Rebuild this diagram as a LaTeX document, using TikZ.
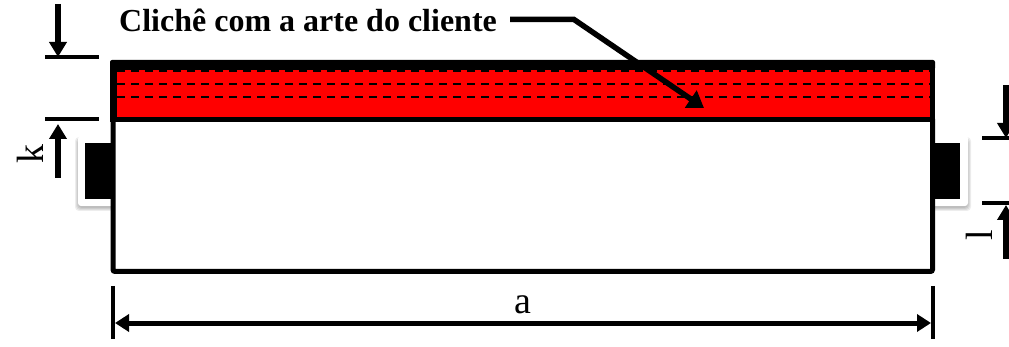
\documentclass[tikz,border=0pt]{standalone}
\usepackage{fontspec}
\setmainfont{Liberation Serif}
\usetikzlibrary{arrows.meta}
\tikzset{
  px/.style={x=1pt,y=-1pt},
  dimline/.style={draw=black,line width=4.5pt},
  arr/.style={draw=black,line width=5.5pt,-{Triangle[length=15pt,width=17pt]}},
  dimarr/.style={draw=black,line width=5pt,{Triangle[length=14pt,width=17pt]}-{Triangle[length=14pt,width=17pt]}},
  leader/.style={draw=black,line width=5.5pt,line join=miter,-{Triangle[length=16pt,width=20pt]}},
  cutline/.style={draw=black,line width=1.7pt,dash pattern=on 8pt off 6pt},
  shadowbox/.style={fill=black,fill opacity=0.07,rounded corners=4pt},
  captext/.style={font=\bfseries\fontsize{32}{36}\selectfont,inner sep=0pt,anchor=base west},
  lab/.style={font=\fontsize{38}{42}\selectfont,inner sep=0pt},
}
\begin{document}
\begin{tikzpicture}[px]
\useasboundingbox (0,0) rectangle (1009,347);
% shoulders: soft shadow, white plate, black block
\foreach \d in {0,1,2,3}{
  \fill[shadowbox] (75+\d,137+\d) rectangle (114,211-\d);
  \fill[shadowbox] (930,137+\d) rectangle (971-\d,211-\d);
}
\fill[white,rounded corners=3pt] (78,136) rectangle (115,206);
\fill[white,rounded corners=3pt] (930,135) rectangle (968,206);
\fill[black] (85,143) rectangle (112,199);
\fill[black] (933,143) rectangle (960,199);
% cylinder
\fill[white] (112,62) rectangle (933,271);
\fill[red] (116,68) rectangle (931,118);
\draw[cutline] (117,71) -- (930,71);
\draw[cutline] (117,84) -- (930,84);
\draw[cutline] (117,97) -- (930,97);
\fill[black,rounded corners=2pt] (110,60) rectangle (935,70);
\fill[black] (110,117) rectangle (935,122);
\fill[black] (110,65) rectangle (117,117);
\fill[black] (930,65) rectangle (935,117);
\draw[black,line width=5pt,rounded corners=2pt] (113,119) -- (113,271.5) -- (932.5,271.5) -- (932.5,119);
% k dimension
\coordinate (ka) at (58,4);
\coordinate (kb) at (58,57);
\coordinate (kc) at (58,178);
\coordinate (kd) at (58,124);
\draw[dimline] (45,57) -- (99,57);
\draw[dimline] (45,119) -- (99,119);
\draw[arr] (ka) -- (kb);
\draw[arr] (kc) -- (kd);
\node[lab,rotate=90] (k) at (30,154) {k};
% l dimension
\coordinate (la) at (1006,85);
\coordinate (lb) at (1006,138);
\coordinate (lc) at (1006,259);
\coordinate (ld) at (1006,205);
\draw[dimline] (982,138) -- (1009,138);
\draw[dimline] (982,203) -- (1009,203);
\draw[arr] (la) -- (lb);
\draw[arr] (lc) -- (ld);
\node[lab,rotate=90] (l) at (979.5,235) {l};
% a dimension
\draw[dimline] (113,286) -- (113,339);
\draw[dimline] (933,286) -- (933,339);
\coordinate (aa) at (115,323);
\coordinate (ab) at (931,323);
\draw[dimarr] (aa) -- (ab);
\node[lab] (a) at (523,305) {a};
% caption and leader
\node[captext] (c) at (119,32) {Clichê com a arte do cliente};
\coordinate (ca) at (510,19.5);
\coordinate (cb) at (574,19.5);
\coordinate (cc) at (704,108);
\draw[leader] (ca) -- (cb) -- (cc);
\end{tikzpicture}
\end{document}
